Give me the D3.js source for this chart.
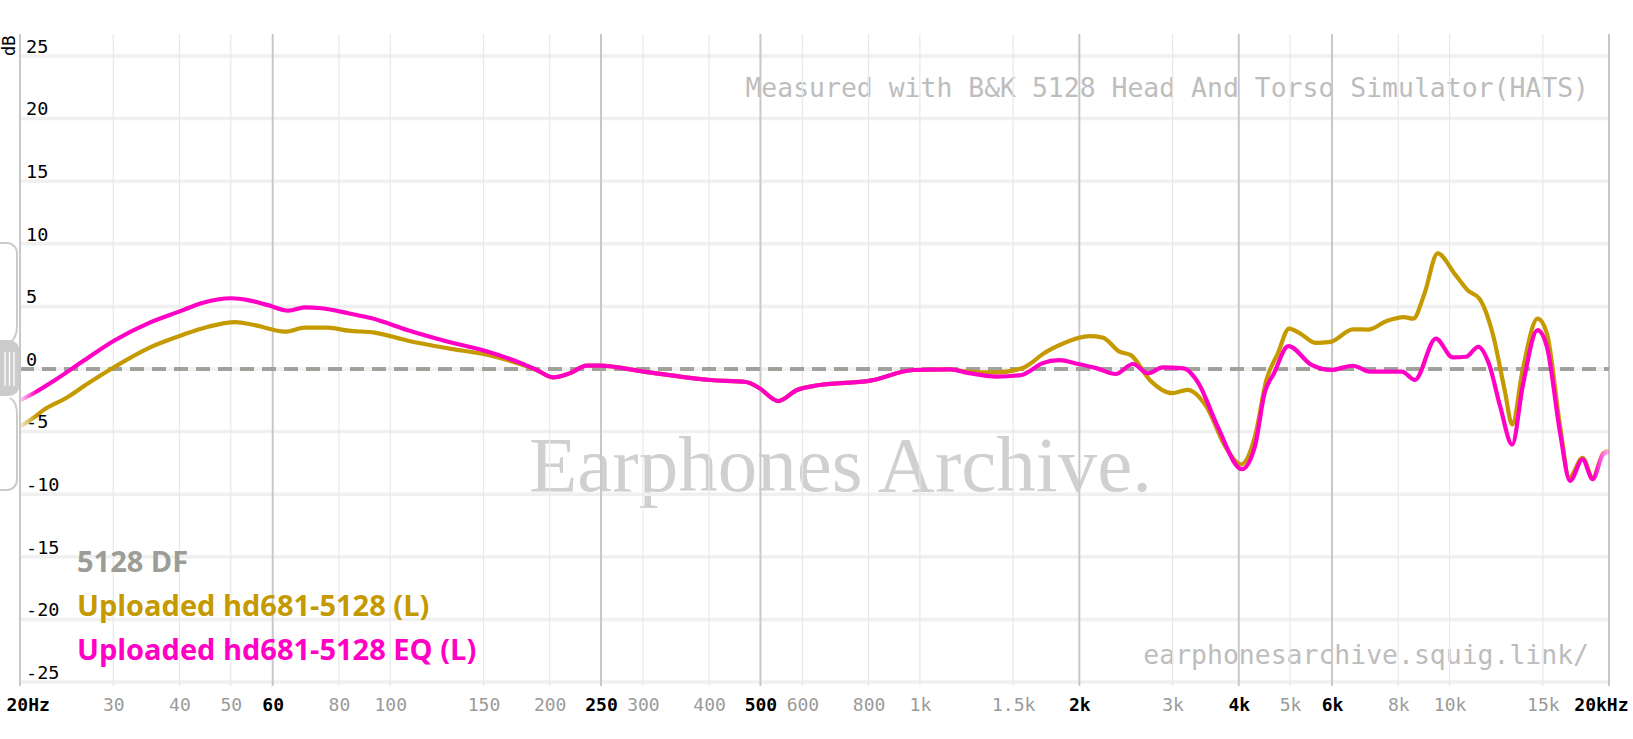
<!DOCTYPE html>
<html><head><meta charset="utf-8">
<script src="https://cdn.jsdelivr.net/npm/d3@7/dist/d3.min.js"></script>
<style>
html,body{margin:0;padding:0;background:#fff;}
svg{display:block;}
</style></head>
<body>
<svg id="chart" width="1633" height="739"></svg>
<script>
// ---------- data ----------
const xTicks = [20,30,40,50,60,80,100,150,200,250,300,400,500,600,800,1000,1500,2000,3000,4000,5000,6000,8000,10000,15000,20000];
const xTickLabels = ["20Hz","30","40","50","60","80","100","150","200","250","300","400","500","600","800","1k","1.5k","2k","3k","4k","5k","6k","8k","10k","15k","20kHz"];
const majorTicks = [20,60,250,500,2000,4000,6000,20000];
const yTicks = [25,20,15,10,5,0,-5,-10,-15,-20,-25];

const seriesNames = ["5128 DF","Uploaded hd681-5128 (L)","Uploaded hd681-5128 EQ (L)"];

const targetFreq = [20,20000];
const targetDb = [0,0];

const hd681Freq = [20,21.2,22.3,24.4,26.9,30.2,34.9,40.4,45.3,51,55.5,63.3,69,76.3,83.4,93.5,108,128.6,153,177,189,203,218,235,249,301,402,470,498,540,586,647,806,974,1140,1226,1398,1558,1620,1700,1864,2089,2214,2382,2502,2716,2996,3200,3473,3769,4036,4292,4510,4740,4978,5228,5580,5960,6570,7014,7612,8198,8541,8962,9497,10225,10830,11390,12060,12705,13130,13740,14660,15270,16170,16830,17830,18630,19510,20000];
const hd681Db   = [-4.6,-3.9,-3.2,-2.34,-1.14,0.18,1.65,2.7,3.38,3.75,3.5,2.98,3.3,3.3,3.06,2.9,2.26,1.65,1.12,0.35,-0.08,-0.67,-0.35,0.27,0.27,-0.21,-0.88,-1.04,-1.54,-2.56,-1.68,-1.28,-0.93,-0.08,-0.03,-0.2,-0.27,0.05,0.45,1.15,2.04,2.62,2.51,1.38,1.11,-0.87,-1.93,-1.67,-2.99,-6.16,-7.62,-5.37,-0.87,1.24,3.23,2.83,2.09,2.17,3.17,3.15,3.84,4.15,4.02,6.0,9.23,7.6,6.27,5.61,2.83,-1.67,-4.44,-0.08,4.02,2.83,-4.58,-8.68,-7.09,-8.68,-6.69,-6.5];

const eqFreq = [20,21.3,23.3,26.2,30.2,34.9,40.4,44,50.2,53.9,58.8,64.2,69,74.2,83.4,92.3,108,128.6,153,177,189,203,218,235,249,301,402,470,498,540,586,647,806,974,1140,1226,1398,1558,1608,1700,1834,1990,2160,2343,2525,2694,2876,3148,3358,3648,4054,4292,4474,4662,4962,5490,5960,6570,7072,8132,8600,9420,10140,10740,11330,11860,12460,13130,13740,14660,15270,16170,16880,17830,18630,19510,20000];
const eqDb   = [-2.5,-1.9,-0.88,0.58,2.3,3.65,4.66,5.25,5.65,5.5,5.1,4.66,4.93,4.85,4.45,4.05,3.1,2.18,1.38,0.45,-0.08,-0.67,-0.35,0.27,0.27,-0.21,-0.88,-1.04,-1.54,-2.56,-1.68,-1.28,-0.93,-0.08,-0.03,-0.29,-0.61,-0.48,-0.2,0.45,0.71,0.4,0.05,-0.4,0.4,-0.34,0.13,0.05,-1.14,-4.58,-8.0,-6.16,-1.93,-0.34,1.83,0.32,-0.08,0.26,-0.21,-0.21,-0.87,2.43,0.93,0.98,1.77,0.45,-2.99,-6.03,-1.4,3.1,1.77,-5.1,-8.94,-7.22,-8.8,-6.8,-6.6];

// ---------- styles ----------
const colors = {target:"#a0a29b", hd681:"#c49a00", eq:"#ff00c4", legendTarget:"#9b9d96"};
const mono = "'DejaVu Sans Mono', monospace";

const svg = d3.select("#chart");
const x = d3.scaleLog().domain([20,20000]).range([20,1609]);
const y = d3.scaleLinear().domain([-25,25]).range([682,56]);

// watermark texts (under grid)
svg.append("text").attr("x",529).attr("y",491).attr("font-family","'Liberation Serif', serif")
  .attr("font-size",79).attr("fill","#d0d0d0").text("Earphones Archive.");
svg.append("text").attr("x",1589).attr("y",97).attr("text-anchor","end").attr("font-family",mono)
  .attr("font-size",26.45).attr("fill","#bdbdbd").text("Measured with B&K 5128 Head And Torso Simulator(HATS)");
svg.append("text").attr("x",1589).attr("y",664).attr("text-anchor","end").attr("font-family",mono)
  .attr("font-size",26.45).attr("fill","#bdbdbd").text("earphonesarchive.squig.link/");

// horizontal grid
const hg = svg.append("g");
hg.selectAll("line").data(yTicks).join("line")
  .attr("x1",20).attr("x2",1609).attr("y1",d=>y(d)).attr("y2",d=>y(d))
  .attr("stroke","#f0f0f0").attr("stroke-width",3.5);

// vertical grid
const vg = svg.append("g");
vg.selectAll("line").data(xTicks).join("line")
  .attr("x1",d=>x(d)).attr("x2",d=>x(d)).attr("y1",34).attr("y2",686)
  .attr("stroke",d=>majorTicks.includes(d)?"#c8c8c8":"#e8e8e8")
  .attr("stroke-width",d=>majorTicks.includes(d)?2:1.2);

// left handle decoration
const hd = svg.append("g");
hd.append("path").attr("d","M0,243 H7 A10,10 0 0 1 17,253 V326 Q17,338 10,342")
  .attr("fill","none").attr("stroke","#cccccc").attr("stroke-width",2);
hd.append("path").attr("d","M0,340 H9 Q19,341 20,352 V384 Q19,395 9,396 H0 Z").attr("fill","#cccccc");
[5,9.5,14].forEach(px=>hd.append("line").attr("x1",px).attr("x2",px).attr("y1",352).attr("y2",386)
  .attr("stroke","#fff").attr("stroke-width",1.3));
hd.append("path").attr("d","M10,398 Q17,402 17,414 V480 A10,10 0 0 1 7,490 H0")
  .attr("fill","none").attr("stroke","#cccccc").attr("stroke-width",2);

// fade mask for curves
const defs = svg.append("defs");
const grad = defs.append("linearGradient").attr("id","fadeGrad").attr("gradientUnits","userSpaceOnUse")
  .attr("x1",20).attr("x2",1612).attr("y1",0).attr("y2",0);
grad.append("stop").attr("offset",0).attr("stop-color","#fff").attr("stop-opacity",0.15);
grad.append("stop").attr("offset",(36-20)/1592).attr("stop-color","#fff").attr("stop-opacity",1);
grad.append("stop").attr("offset",(1594-20)/1592).attr("stop-color","#fff").attr("stop-opacity",1);
grad.append("stop").attr("offset",1).attr("stop-color","#fff").attr("stop-opacity",0.15);
defs.append("mask").attr("id","fade").attr("maskUnits","userSpaceOnUse")
  .append("rect").attr("x",0).attr("y",0).attr("width",1633).attr("height",739).attr("fill","url(#fadeGrad)");

// target dashed line
const line = d3.line().x(d=>x(d[0])).y(d=>y(d[1])).curve(d3.curveMonotoneX);
svg.append("path").attr("d",line(d3.zip(targetFreq,targetDb)))
  .attr("fill","none").attr("stroke",colors.target).attr("stroke-width",4).attr("stroke-dasharray","14,8");

const cg = svg.append("g").attr("mask","url(#fade)");
cg.append("path").attr("d",line(d3.zip(hd681Freq,hd681Db)))
  .attr("fill","none").attr("stroke",colors.hd681).attr("stroke-width",4.2).attr("stroke-linejoin","round");
cg.append("path").attr("d",line(d3.zip(eqFreq,eqDb)))
  .attr("fill","none").attr("stroke",colors.eq).attr("stroke-width",4.2).attr("stroke-linejoin","round");

// legend
const legColors = [colors.legendTarget, colors.hd681, colors.eq];
svg.append("g").selectAll("text").data(seriesNames).join("text")
  .attr("x",77).attr("y",(d,i)=>572+i*44)
  .attr("font-family","'Open Sans', sans-serif").attr("font-weight",700).attr("font-size",29)
  .attr("fill",(d,i)=>legColors[i]).text(d=>d);

// x axis labels
const xAxis = d3.axisBottom(x).tickValues(xTicks).tickFormat((d,i)=>xTickLabels[i]).tickSize(0).tickPadding(0);
const xa = svg.append("g").attr("transform","translate(0,695)").call(xAxis);
xa.select(".domain").remove();
xa.selectAll("text").attr("font-family",mono).attr("font-size",18).attr("dy","0.9em")
  .attr("fill",d=>majorTicks.includes(d)?"#000":"#9a9a9a")
  .attr("font-weight",d=>majorTicks.includes(d)?600:400);
xa.selectAll(".tick").filter(d=>d===20).select("text").attr("text-anchor","start").attr("x",6-x(20));
xa.selectAll(".tick").filter(d=>d===20000).select("text").attr("text-anchor","end").attr("x",1628-x(20000));

// y axis labels
const yAxis = d3.axisRight(y).tickValues(yTicks).tickFormat(d=>String(d)).tickSize(0).tickPadding(0);
const ya = svg.append("g").attr("transform","translate(26,0)").call(yAxis);
ya.select(".domain").remove();
ya.selectAll("text").attr("font-family",mono).attr("font-size",18.5).attr("fill","#000")
  .attr("text-anchor","start").attr("x",0).attr("dy","-0.2em");

// left axis line and dB label
svg.append("line").attr("x1",20).attr("x2",20).attr("y1",34).attr("y2",686).attr("stroke","#c8c8c8").attr("stroke-width",2);
svg.append("text").attr("transform","translate(15,56) rotate(-90)").attr("font-family",mono)
  .attr("font-size",17).attr("fill","#000").text("dB");
</script>
</body></html>
